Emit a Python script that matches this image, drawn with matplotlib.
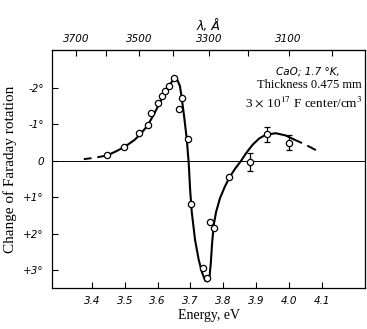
import numpy as np
import matplotlib
matplotlib.use("Agg")
import matplotlib.pyplot as plt

plt.rcParams['mathtext.fontset'] = 'stix'

# measured points (energy eV, change of rotation in degrees)
pts_E = [3.445, 3.498, 3.544, 3.572, 3.580, 3.600, 3.612, 3.623, 3.635, 3.651,
         3.673, 3.665, 3.694, 3.702, 3.739, 3.750, 3.760, 3.772, 3.819]
pts_rot = [-0.16, -0.38, -0.76, -0.99, -1.32, -1.58, -1.78, -1.92, -2.05, -2.28,
           -1.72, -1.42, -0.60, 1.19, 2.94, 3.21, 1.66, 1.84, 0.43]

# points with error bars
err_E = [3.882, 3.934, 4.001]
err_rot = [0.02, -0.73, -0.50]
err_size = [0.25, 0.20, 0.20]

# drawn curve (solid part)
curve_E = [3.445, 3.47, 3.50, 3.53, 3.55, 3.57, 3.59, 3.61, 3.625, 3.64, 3.651,
           3.660, 3.668, 3.673, 3.681, 3.689, 3.695, 3.699, 3.704, 3.714, 3.725,
           3.735, 3.745, 3.752, 3.758, 3.762, 3.766, 3.771, 3.778, 3.79, 3.805,
           3.82, 3.837, 3.854, 3.87, 3.89, 3.91, 3.93, 3.96, 3.99, 4.013]
curve_rot = [-0.15, -0.25, -0.39, -0.58, -0.76, -0.98, -1.30, -1.66, -1.92, -2.13, -2.25,
             -2.22, -2.05, -1.75, -1.20, -0.58, 0.10, 0.79, 1.40, 2.16, 2.70,
             3.05, 3.28, 3.30, 3.18, 2.80, 2.25, 1.75, 1.40, 1.02, 0.70,
             0.43, 0.20, 0.0, -0.22, -0.45, -0.62, -0.72, -0.76, -0.70, -0.60]

# dashed extensions
dashL_E = [3.375, 3.41, 3.445]
dashL_rot = [-0.05, -0.09, -0.15]
dashR_E = [4.013, 4.04, 4.065, 4.09]
dashR_rot = [-0.60, -0.49, -0.38, -0.26]

xticks = [3.4, 3.5, 3.6, 3.7, 3.8, 3.9, 4.0, 4.1]
yticks = [-2, -1, 0, 1, 2, 3]
ytick_labels = ['-2°', '-1°', '0', '+1°', '+2°', '+3°']
lam_ticks = [3700, 3500, 3300, 3100]
lam_minor = [3600, 3400, 3200, 3000]

W, H = 367, 329
fig = plt.figure(figsize=(W / 100, H / 100), dpi=100)
ax = fig.add_axes([52 / W, 1 - 288 / H, (365 - 52) / W, (288 - 50) / H])

ax.axhline(0, color='black', lw=0.7, zorder=1)
ax.plot(dashL_E, dashL_rot, color='black', lw=1.4, ls=(0, (4, 3)))
ax.plot(dashR_E, dashR_rot, color='black', lw=1.4, ls=(0, (5, 3)))
ax.plot(curve_E, curve_rot, color='black', lw=1.5, zorder=2)
ax.plot(pts_E, pts_rot, 'o', ms=4.5, mfc='white', mec='black', mew=0.9, zorder=3)
ax.errorbar(err_E, err_rot, yerr=err_size, fmt='o', ms=4.5, mfc='white', mec='black',
            mew=0.9, ecolor='black', elinewidth=0.9, capsize=2, capthick=0.9, zorder=3)

ax.set_xlim(3.278, 4.232)
ax.set_ylim(3.48, -3.04)

tickfont = dict(family='DejaVu Sans', style='italic', size=7.5)
ax.set_xticks(xticks)
ax.set_xticklabels([f'{v:.1f}' for v in xticks], fontdict=tickfont)
ax.set_yticks(yticks)
ax.set_yticklabels(ytick_labels, fontdict=tickfont)
ax.tick_params(direction='in', length=4, width=0.8, pad=6)

for s in ax.spines.values():
    s.set_linewidth(0.9)

ax.set_xlabel('Energy, eV', family='Liberation Serif', fontsize=10, labelpad=2)
ax.set_ylabel('Change of Faraday rotation', family='Liberation Serif', fontsize=11, labelpad=4)

sec = ax.secondary_xaxis('top', functions=(lambda e: 12398.4 / np.asarray(e, dtype=float),
                                           lambda l: 12398.4 / np.asarray(l, dtype=float)))
sec.set_xticks(lam_ticks)
sec.set_xticklabels([str(v) for v in lam_ticks], fontdict=tickfont)
sec.set_xticks(lam_minor, minor=True)
sec.tick_params(direction='in', length=4, width=0.8, pad=4)
sec.tick_params(which='minor', direction='in', length=4, width=0.8)
sec.set_xlabel('λ, Å', family='DejaVu Sans', style='italic', fontsize=9, labelpad=3)

fig.text(340 / W, 1 - 72 / H, 'CaO; 1.7 °K,', family='DejaVu Sans', style='italic',
         fontsize=7.5, ha='right', va='center')
fig.text(362 / W, 1 - 85 / H, 'Thickness 0.475 mm', family='Liberation Serif',
         fontsize=9, ha='right', va='center')
fig.text(362 / W, 1 - 102 / H, r'3 $\times$ 10$^{17}$ F center/cm$^3$', family='Liberation Serif',
         fontsize=9.5, ha='right', va='center')

fig.savefig('out.png', dpi=100)
